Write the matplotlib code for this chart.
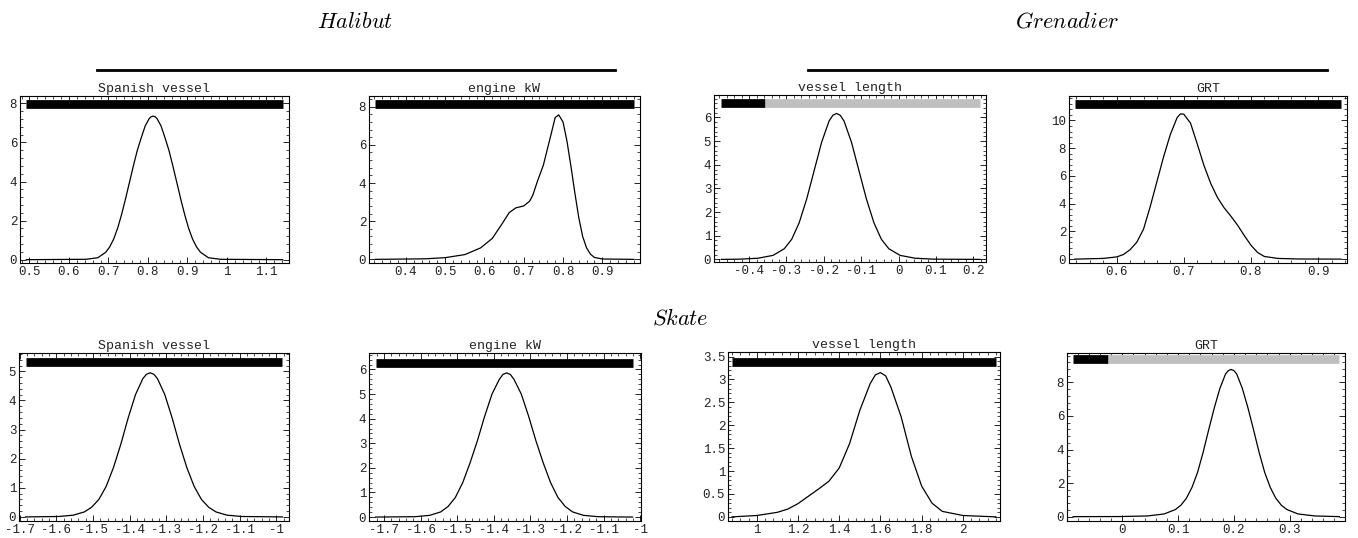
import matplotlib
matplotlib.use("Agg")
import matplotlib.pyplot as plt
from matplotlib.lines import Line2D
from matplotlib.ticker import MultipleLocator, AutoMinorLocator, FuncFormatter

plt.rcParams['mathtext.fontset'] = 'cm'
plt.rcParams['axes.unicode_minus'] = False

# ---- data ----
# Halibut
hal_spanish_x = [0.492, 0.643, 0.673, 0.693, 0.703, 0.713, 0.723, 0.733, 0.743, 0.753, 0.763,
                 0.773, 0.783, 0.793, 0.803, 0.808, 0.813, 0.818, 0.823, 0.833, 0.843, 0.853,
                 0.863, 0.873, 0.883, 0.893, 0.903, 0.913, 0.923, 0.933, 0.953, 0.983, 1.141]
hal_spanish_y = [0, 0.02, 0.1, 0.38, 0.65, 1.05, 1.6, 2.3, 3.1, 3.95, 4.8, 5.6, 6.25, 6.85, 7.22,
                 7.32, 7.35, 7.32, 7.22, 6.85, 6.25, 5.6, 4.8, 3.95, 3.1, 2.3, 1.6, 1.05, 0.65,
                 0.38, 0.1, 0.02, 0]
hal_engine_x = [0.322, 0.45, 0.50, 0.55, 0.59, 0.62, 0.645, 0.663, 0.68, 0.70, 0.715, 0.723,
                0.735, 0.75, 0.767, 0.78, 0.789, 0.80, 0.81, 0.82, 0.83, 0.84, 0.85, 0.86,
                0.87, 0.88, 0.90, 0.980]
hal_engine_y = [0, 0.03, 0.09, 0.25, 0.6, 1.1, 1.87, 2.45, 2.7, 2.8, 3.05, 3.36, 4.1, 4.94,
                6.34, 7.43, 7.57, 7.2, 6.2, 4.9, 3.5, 2.2, 1.2, 0.6, 0.27, 0.1, 0.02, 0]

# Grenadier
gre_length_x = [-0.474, -0.426, -0.376, -0.336, -0.306, -0.286, -0.266, -0.246, -0.226, -0.206,
                -0.186, -0.176, -0.166, -0.156, -0.146, -0.126, -0.106, -0.086, -0.066, -0.046,
                -0.026, 0.004, 0.044, 0.094, 0.218]
gre_length_y = [0, 0.01, 0.05, 0.17, 0.45, 0.85, 1.55, 2.55, 3.75, 4.95, 5.85, 6.09, 6.17, 6.09,
                5.85, 4.95, 3.75, 2.55, 1.55, 0.85, 0.45, 0.17, 0.05, 0.01, 0]
gre_grt_x = [0.538, 0.58, 0.60, 0.61, 0.62, 0.63, 0.64, 0.65, 0.66, 0.67, 0.68, 0.69, 0.695,
             0.70, 0.71, 0.72, 0.73, 0.74, 0.75, 0.76, 0.77, 0.78, 0.79, 0.80, 0.81, 0.82,
             0.84, 0.87, 0.934]
gre_grt_y = [0, 0.05, 0.16, 0.33, 0.68, 1.22, 2.16, 3.8, 5.6, 7.4, 9.0, 10.2, 10.47, 10.45,
             9.8, 8.3, 6.75, 5.46, 4.45, 3.7, 3.1, 2.45, 1.7, 1.0, 0.47, 0.19, 0.05, 0.01, 0]

# Skate
sk_spanish_x = [-1.684, -1.594, -1.554, -1.524, -1.504, -1.484, -1.464, -1.444, -1.424, -1.404,
                -1.384, -1.364, -1.354, -1.344, -1.334, -1.324, -1.304, -1.284, -1.264, -1.244,
                -1.224, -1.204, -1.184, -1.164, -1.134, -1.094, -0.983]
sk_spanish_y = [0, 0.015, 0.06, 0.17, 0.33, 0.6, 1.05, 1.7, 2.5, 3.4, 4.2, 4.75, 4.9, 4.95, 4.9,
                4.75, 4.2, 3.4, 2.5, 1.7, 1.05, 0.6, 0.33, 0.17, 0.06, 0.015, 0]
sk_engine_x = [-1.723, -1.615, -1.575, -1.545, -1.525, -1.505, -1.485, -1.465, -1.445, -1.425,
               -1.405, -1.385, -1.375, -1.365, -1.355, -1.345, -1.325, -1.305, -1.285, -1.265,
               -1.245, -1.225, -1.205, -1.185, -1.155, -1.115, -1.021]
sk_engine_y = [0, 0.015, 0.07, 0.21, 0.43, 0.8, 1.4, 2.2, 3.1, 4.1, 5.0, 5.6, 5.8, 5.86, 5.8,
               5.6, 5.0, 4.1, 3.1, 2.2, 1.4, 0.8, 0.43, 0.21, 0.07, 0.015, 0]
sk_length_x = [0.88, 1.0, 1.1, 1.15, 1.2, 1.25, 1.3, 1.35, 1.4, 1.45, 1.5, 1.55, 1.575, 1.6,
               1.625, 1.65, 1.7, 1.75, 1.8, 1.85, 1.9, 2.0, 2.16]
sk_length_y = [0, 0.03, 0.1, 0.17, 0.29, 0.45, 0.61, 0.78, 1.07, 1.6, 2.33, 2.91, 3.1, 3.15,
               3.08, 2.84, 2.19, 1.32, 0.67, 0.3, 0.12, 0.03, 0]
sk_grt_x = [-0.088, -0.005, 0.045, 0.075, 0.095, 0.105, 0.115, 0.125, 0.135, 0.145, 0.155,
            0.165, 0.175, 0.185, 0.190, 0.195, 0.200, 0.205, 0.215, 0.225, 0.235, 0.245, 0.255,
            0.265, 0.275, 0.285, 0.295, 0.315, 0.345, 0.389]
sk_grt_y = [0, 0.005, 0.04, 0.16, 0.42, 0.68, 1.1, 1.75, 2.65, 3.85, 5.2, 6.5, 7.65, 8.5, 8.7,
            8.77, 8.7, 8.5, 7.65, 6.5, 5.2, 3.85, 2.65, 1.75, 1.1, 0.68, 0.42, 0.16, 0.04, 0]

# where the black part of the bar stops (None = whole bar black)
gre_length_black_end = -0.357
sk_grt_black_end = -0.025

titles = ['Spanish vessel', 'engine kW', 'vessel length', 'GRT']
species = ['Halibut', 'Grenadier', 'Skate']

# ---- layout (pixels of a 1358x538 canvas) ----
W, H = 1358, 538


def rect(x0, x1, ytop, ybot):
    return [x0 / W, 1 - ybot / H, (x1 - x0) / W, (ybot - ytop) / H]


panels = [
    # rect, title, x, y, black_end, bar level, xlim, ylim, xstep, ystep
    (rect(20, 289, 96, 263), titles[0], hal_spanish_x, hal_spanish_y, None, 7.95,
     (0.476, 1.157), (-0.17, 8.38), 0.1, 2),
    (rect(369, 640, 96, 263), titles[1], hal_engine_x, hal_engine_y, None, 8.12,
     (0.306, 0.996), (-0.19, 8.56), 0.1, 2),
    (rect(714, 986, 95, 262), titles[2], gre_length_x, gre_length_y, gre_length_black_end, 6.6,
     (-0.494, 0.234), (-0.11, 6.95), 0.1, 1),
    (rect(1069, 1347, 96, 263), titles[3], gre_grt_x, gre_grt_y, None, 11.2,
     (0.529, 0.943), (-0.28, 11.76), 0.1, 2),
    (rect(19, 289, 353, 521), titles[0], sk_spanish_x, sk_spanish_y, None, 5.32,
     (-1.702, -0.965), (-0.14, 5.63), 0.1, 1),
    (rect(369, 641, 353, 521), titles[1], sk_engine_x, sk_engine_y, None, 6.27,
     (-1.741, -0.998), (-0.16, 6.67), 0.1, 1),
    (rect(728, 1000, 352, 521), titles[2], sk_length_x, sk_length_y, None, 3.38,
     (0.86, 2.18), (-0.09, 3.6), 0.2, 0.5),
    (rect(1067, 1345, 353, 521), titles[3], sk_grt_x, sk_grt_y, sk_grt_black_end, 9.39,
     (-0.099, 0.399), (-0.26, 9.75), 0.1, 2),
]

fmt = FuncFormatter(lambda v, p: f"{round(v, 6):g}")
mono = 'Liberation Mono'

fig = plt.figure(figsize=(W / 100, H / 100), dpi=100)

for r, title, xs, ys, black_end, bar_y, xlim, ylim, xstep, ystep in panels:
    ax = fig.add_axes(r)
    ax.plot(xs, ys, color='black', lw=0.9)
    end = xs[-1] if black_end is None else black_end
    ax.plot([xs[0], end], [bar_y, bar_y], color='black', lw=6.3, solid_capstyle='butt')
    if black_end is not None:
        ax.plot([black_end, xs[-1]], [bar_y, bar_y], color='#c0c0c0', lw=6.3,
                solid_capstyle='butt')
    ax.set_xlim(*xlim)
    ax.set_ylim(*ylim)
    ax.xaxis.set_major_locator(MultipleLocator(xstep))
    ax.yaxis.set_major_locator(MultipleLocator(ystep))
    ax.xaxis.set_minor_locator(AutoMinorLocator(5))
    ax.yaxis.set_minor_locator(AutoMinorLocator(5))
    ax.xaxis.set_major_formatter(fmt)
    ax.yaxis.set_major_formatter(fmt)
    ax.tick_params(which='both', direction='in', top=True, right=True,
                   labelsize=9, pad=2, colors='black', labelcolor='#222222')
    ax.tick_params(which='major', length=4, width=0.6)
    ax.tick_params(which='minor', length=2, width=0.5)
    for lab in ax.get_xticklabels() + ax.get_yticklabels():
        lab.set_fontfamily(mono)
    for s in ax.spines.values():
        s.set_linewidth(0.8)
    ax.set_title(title, fontfamily=mono, fontsize=9.5, pad=3, color='#222222')

# species headings and the rules under them
fig.text(355 / W, 1 - 22 / H, r'$\mathit{Halibut}$', ha='center', va='center', fontsize=16)
fig.text(1067 / W, 1 - 22 / H, r'$\mathit{Grenadier}$', ha='center', va='center', fontsize=16)
fig.text(680 / W, 1 - 318 / H, r'$\mathit{Skate}$', ha='center', va='center', fontsize=16)
fig.add_artist(Line2D([97 / W, 615 / W], [1 - 70 / H] * 2, lw=2, color='black',
                      transform=fig.transFigure))
fig.add_artist(Line2D([808 / W, 1327 / W], [1 - 70 / H] * 2, lw=2, color='black',
                      transform=fig.transFigure))

fig.savefig('out.png', dpi=100)
